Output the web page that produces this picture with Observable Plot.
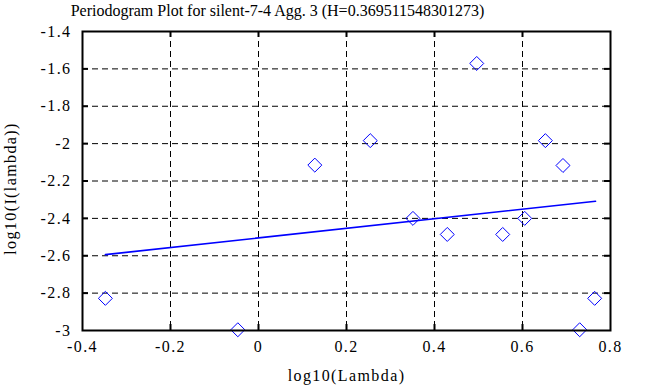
<!DOCTYPE html>
<html>
<head>
<meta charset="utf-8">
<script src="https://cdn.jsdelivr.net/npm/d3@7"></script>
<script src="https://cdn.jsdelivr.net/npm/@observablehq/plot@0.6"></script>
<style>
  html, body { margin: 0; padding: 0; background: #fff; }
  #chart svg, #chart svg text { font-family: "Liberation Serif", "Times New Roman", serif !important; font-size: 16px !important; }
  #chart svg text { letter-spacing: 1.4px; }
  #chart svg text.title-text { letter-spacing: 0px !important; }
</style>
</head>
<body>
<div id="chart"></div>
<script>
const title = "Periodogram Plot for silent-7-4 Agg. 3 (H=0.369511548301273)";
const xLabel = "log10(Lambda)";
const yLabel = "log10(I(lambda))";

// periodogram points (log10 lambda, log10 I)
const logLambda = [-0.348, -0.047, 0.128, 0.254, 0.351, 0.429, 0.496, 0.555, 0.605, 0.652, 0.692, 0.730, 0.764];
const logI      = [-2.828, -2.996, -2.115, -1.984, -2.400, -2.486, -1.571, -2.486, -2.400, -1.984, -2.117, -2.996, -2.828];

// fitted line endpoints
const fitX = [-0.348, 0.766];
const fitY = [-2.594, -2.308];

const xTicks = [-0.4, -0.2, 0, 0.2, 0.4, 0.6, 0.8];
const xTickLabels = ["-0.4", "-0.2", "0", "0.2", "0.4", "0.6", "0.8"];
const yTicks = [-3, -2.8, -2.6, -2.4, -2.2, -2, -1.8, -1.6, -1.4];
const yTickLabels = ["-3", "-2.8", "-2.6", "-2.4", "-2.2", "-2", "-1.8", "-1.6", "-1.4"];

const points = logLambda.map((x, i) => ({x, y: logI[i]}));
const fit = fitX.map((x, i) => ({x, y: fitY[i]}));

const W = 653, H = 387, mL = 82, mR = 43, mT = 31, mB = 57;
const pw = W - mL - mR, ph = H - mT - mB;
const tickLen = 6;

const diamond = {
  draw(context, size) {
    const r = Math.sqrt(size) * 0.62625;
    context.moveTo(0, -r);
    context.lineTo(r, 0);
    context.lineTo(0, r);
    context.lineTo(-r, 0);
    context.closePath();
  }
};

const innerX = xTicks.slice(1, -1);
const innerY = yTicks.slice(1, -1);

const chart = Plot.plot({
  width: W, height: H,
  marginLeft: mL, marginRight: mR, marginTop: mT, marginBottom: mB,
  style: {background: "#fff", color: "#000"},
  x: {domain: [-0.4, 0.8]},
  y: {domain: [-3, -1.4]},
  marks: [
    Plot.gridX(innerX, {stroke: "#000", strokeOpacity: 1, strokeWidth: 1, strokeDasharray: "6,4"}),
    Plot.gridY(innerY, {stroke: "#000", strokeOpacity: 1, strokeWidth: 1, strokeDasharray: "6,4"}),
    Plot.line(fit, {x: "x", y: "y", stroke: "#0000ff", strokeWidth: 1.6}),
    Plot.dot(points, {x: "x", y: "y", symbol: diamond, r: 6.3, stroke: "#0000ff", strokeWidth: 1, fill: "none"}),
    Plot.frame({stroke: "#000", strokeWidth: 2}),
    Plot.tickY(innerY, {y: d => d, stroke: "#000", strokeWidth: 2, insetRight: pw - tickLen}),
    Plot.tickY(innerY, {y: d => d, stroke: "#000", strokeWidth: 2, insetLeft: pw - tickLen}),
    Plot.tickX(innerX, {x: d => d, stroke: "#000", strokeWidth: 2, insetBottom: ph - tickLen}),
    Plot.tickX(innerX, {x: d => d, stroke: "#000", strokeWidth: 2, insetTop: ph - tickLen}),
    Plot.axisX(xTicks, {anchor: "bottom", tickSize: 0, tickPadding: 10, label: null,
      tickFormat: d => xTickLabels[xTicks.indexOf(d)], fill: "#000"}),
    Plot.axisY(yTicks, {anchor: "left", tickSize: 0, tickPadding: 11, label: null,
      tickFormat: d => yTickLabels[yTicks.indexOf(d)], fill: "#000"}),
    Plot.text([title], {frameAnchor: "top-left", dx: 195, dy: -16, textAnchor: "middle", lineAnchor: "bottom",
      fill: "#000"}),
    Plot.text([xLabel], {frameAnchor: "bottom", dy: 50, textAnchor: "middle", lineAnchor: "bottom", fill: "#000"}),
    Plot.text([yLabel], {frameAnchor: "left", dx: -72, dy: 7.5, rotate: -90, textAnchor: "middle", lineAnchor: "middle", fill: "#000"})
  ]
});
d3.select(chart).selectAll("text").filter(function() { return this.textContent === title; }).classed("title-text", true);
document.getElementById("chart").appendChild(chart);
</script>
</body>
</html>
